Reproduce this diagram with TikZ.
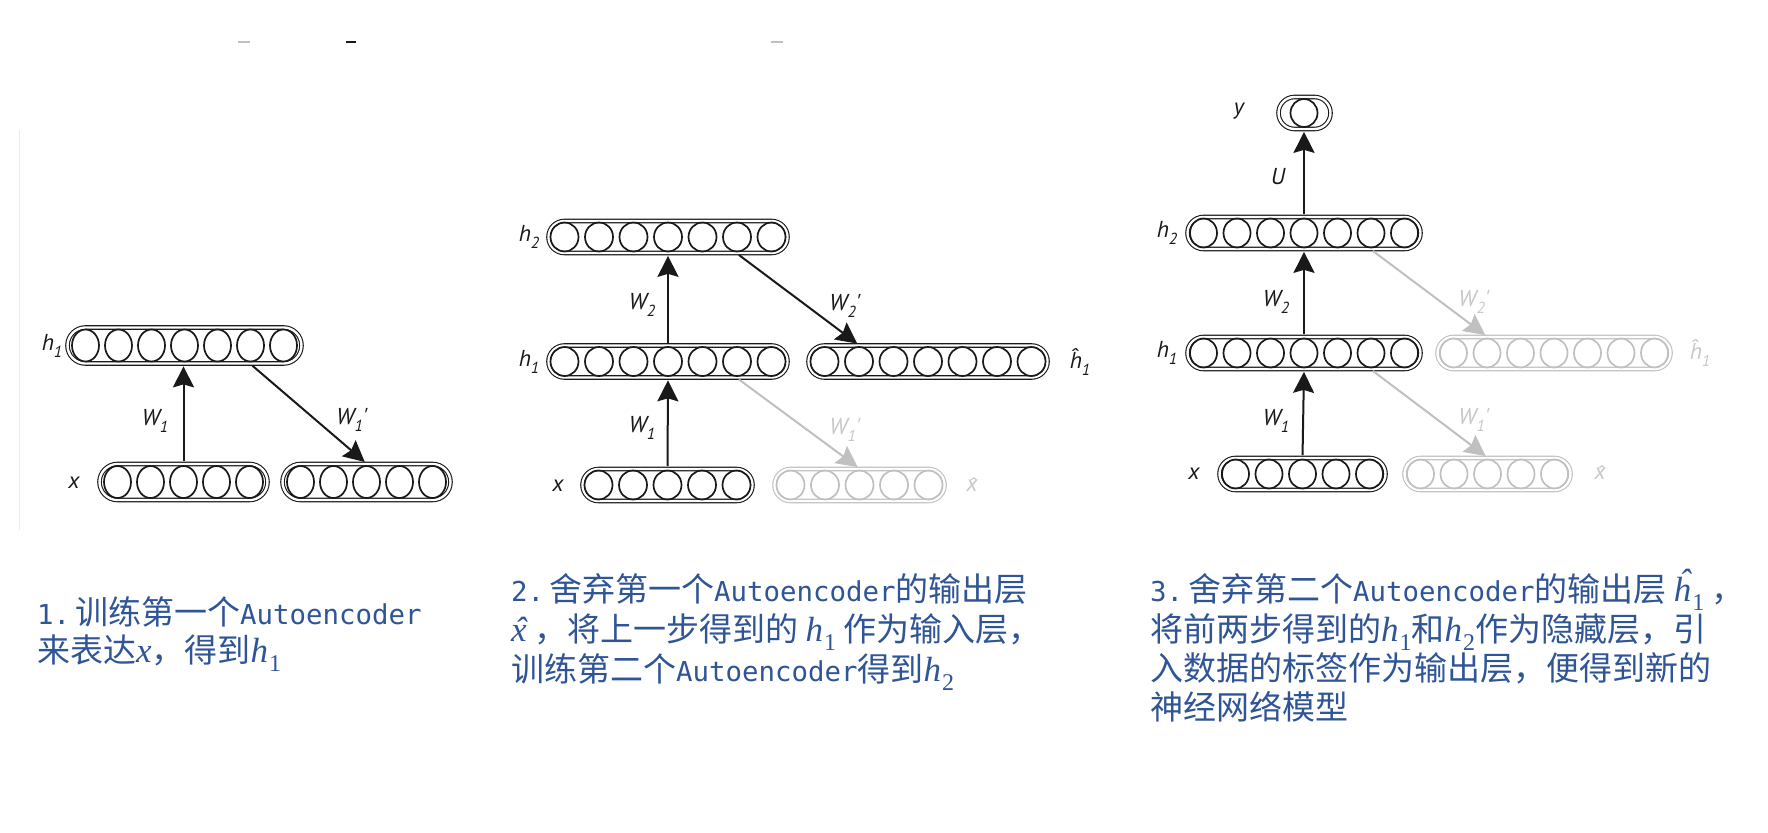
\documentclass[tikz,border=0pt]{standalone}
\usepackage{fontspec}
\setmainfont{Noto Sans CJK SC}
\newfontfamily\lat{DejaVu Sans Mono}[Scale=0.83]
\newfontfamily\dlab{PT Sans}
\newfontfamily\hatf{Liberation Sans}
\newfontfamily\mserif{Liberation Serif}
\usetikzlibrary{shapes.geometric,arrows.meta}
\definecolor{tblue}{RGB}{47,85,151}
\definecolor{fade}{RGB}{192,192,192}
\definecolor{fadetxt}{RGB}{200,200,200}
\definecolor{ink}{RGB}{25,25,25}
% diagram labels
\newcommand\sub[1]{\raisebox{-0.3em}{\fontsize{16}{16}\selectfont #1}}
\newcommand\hx{\ooalign{x\cr\hidewidth\kern2pt\raisebox{-1pt}{\hatf\fontsize{20}{20}\selectfont ˆ}\hidewidth\cr}}
% caption maths
\newcommand\msz{\mserif\fontsize{35}{38}\selectfont\itshape}
\newcommand\msb[1]{\kern1pt\raisebox{-0.28em}[0pt][0pt]{\upshape\fontsize{24}{24}\selectfont #1}}
\newcommand\mh[1]{{\msz h\msb{#1}}}
\newcommand\mx{{\msz x}}
\newcommand\mxhat{{\msz\ooalign{x\cr\hidewidth\kern3pt\raisebox{0pt}[0pt][0pt]{ˆ}\hidewidth\cr}}}
\newcommand\mhhat[1]{{\msz\ooalign{h\cr\hidewidth\kern4pt\raisebox{0.22em}[0pt][0pt]{ˆ}\hidewidth\cr}\msb{#1}}}
\tikzset{
  bar/.style={rectangle, double, double distance=2.4pt, line width=1.1pt, inner sep=0pt},
  cell/.style={ellipse, line width=1.7pt, inner sep=0pt},
  arr/.style={-{Stealth[length=21pt,width=21pt,inset=3pt]}, line width=2pt, draw=ink, shorten <=2.3pt, shorten >=2.3pt},
  farr/.style={arr, draw=fade},
  lab/.style={font=\dlab\itshape\fontsize{23}{23}\selectfont, text=ink, inner sep=0pt},
  flab/.style={lab, text=fadetxt},
  txt/.style={anchor=base west, inner sep=0pt, text=tblue, font=\fontsize{33}{38}\selectfont},
}
% name, left, cy, n, pitch, H, cw, ch, color
\newcommand\layer[9]{%
  \pgfmathsetmacro\bw{(#4-1)*#5+#6-5}%
  \pgfmathsetmacro\bh{#6-5}%
  \pgfmathsetmacro\rr{(#6-5)/2}%
  \node[bar, draw=#9, minimum width=\bw pt, minimum height=\bh pt, rounded corners=\rr pt] (#1) at ({#2+(#4-1)*#5/2+#6/2},#3) {};
  \foreach \i in {1,...,#4}{
    \node[cell, draw=#9, minimum width=#7pt, minimum height=#8pt] (#1c\i) at ({#2+#6/2+(\i-1)*#5},#3) {};
  }%
}
\begin{document}
\begin{tikzpicture}[x=1pt,y=-1pt]
\fill[white] (0,0) rectangle (1768,832);
\useasboundingbox (0,0) rectangle (1768,832);
% small remnants at the top and left
\draw[fade, line width=2pt] (238,42) -- (250,42);
\draw[ink, line width=2pt] (346,42) -- (356,42);
\draw[fade, line width=2pt] (771,42) -- (783,42);
\draw[black!8, line width=1pt] (19,130) -- (19,530);

% ---------------- Panel 1 ----------------
\layer{pa}{65}{345.5}{7}{33}{41}{27}{32}{ink}
\layer{pb}{97}{482}{5}{33}{41}{27}{32}{ink}
\layer{pc}{280}{482}{5}{33}{41}{27}{32}{ink}
\draw[arr] (pbc3 |- pb.north) -- (pbc3 |- pa.south);
\draw[arr] (pac6 |- pa.south) -- (pcc3 |- pc.north);
\node[lab] (la1) at (52,346) {h\sub{1}};
\node[lab] (la2) at (74,483) {x};
\node[lab] (la3) at (155,421) {W\sub{1}};
\node[lab] (la4) at (352,420) {W\sub{1}'};

% ---------------- Panel 2 ----------------
\layer{qa}{546}{237}{7}{34.5}{37}{28}{29}{ink}
\layer{qb}{546}{361.5}{7}{34.5}{37}{28}{29}{ink}
\layer{qc}{806}{361.5}{7}{34.5}{37}{28}{29}{ink}
\layer{qd}{580}{485}{5}{34.5}{37}{28}{29}{ink}
\layer{qe}{772}{485}{5}{34.5}{37}{28}{29}{fade}
\draw[arr] (qdc3 |- qd.north) -- (qbc4 |- qb.south);
\draw[arr] (qbc4 |- qb.north) -- (qac4 |- qa.south);
\draw[arr] (qac6 |- qa.south) -- (qcc2 |- qc.north);
\draw[farr] (qbc6 |- qb.south) -- (qec3 |- qe.north);
\node[lab] (lb1) at (529,237) {h\sub{2}};
\node[lab] (lb2) at (529,362) {h\sub{1}};
\node[lab] (lb3) at (1080,362) {\^h\sub{1}};
\node[lab] (lb4) at (558,486) {x};
\node[flab] (lb5) at (972,486) {\hx};
\node[lab] (lb6) at (642,305) {W\sub{2}};
\node[lab] (lb7) at (642,428) {W\sub{1}};
\node[lab] (lb8) at (845,306) {W\sub{2}'};
\node[flab] (lb9) at (845,430) {W\sub{1}'};

% ---------------- Panel 3 ----------------
\node[bar, draw=ink, minimum width=52pt, minimum height=32pt, rounded corners=16pt] (ry) at (1304.5,113) {};
\node[cell, draw=ink, minimum width=27pt, minimum height=28pt] (ryc1) at (1304,113) {};
\layer{ra}{1185}{233}{7}{33.5}{37}{27}{29}{ink}
\layer{rb}{1185}{353}{7}{33.5}{37}{27}{29}{ink}
\layer{rc}{1435}{353}{7}{33.5}{37}{27}{29}{fade}
\layer{rd}{1217}{474}{5}{33.5}{37}{27}{29}{ink}
\layer{re}{1402}{474}{5}{33.5}{37}{27}{29}{fade}
\draw[arr] (rdc3 |- rd.north) -- (rbc4 |- rb.south);
\draw[arr] (rbc4 |- rb.north) -- (rac4 |- ra.south);
\draw[arr] (rac4 |- ra.north) -- (ryc1 |- ry.south);
\draw[farr] (rac6 |- ra.south) -- (rcc2 |- rc.north);
\draw[farr] (rbc6 |- rb.south) -- (rec3 |- re.north);
\node[lab] (lc0) at (1239,111) {y};
\node[lab] (lc1) at (1278,177) {U};
\node[lab] (lc2) at (1167,233) {h\sub{2}};
\node[lab] (lc3) at (1167,353) {h\sub{1}};
\node[flab] (lc4) at (1700,353) {\^h\sub{1}};
\node[lab] (lc5) at (1194,474) {x};
\node[flab] (lc6) at (1600,474) {\hx};
\node[lab] (lc7) at (1276,302) {W\sub{2}};
\node[lab] (lc8) at (1276,421) {W\sub{1}};
\node[flab] (lc9) at (1474,302) {W\sub{2}'};
\node[flab] (lc10) at (1474,420) {W\sub{1}'};

% ---------------- Captions ----------------
\node[txt] (t11) at (37,624) {{\lat 1.}\hspace{5pt}训练第一个{\lat Autoencoder}};
\node[txt] (t12) at (37,662) {来表达\mx，得到\mh{1}};
\node[txt] (t21) at (511,601) {{\lat 2.}\hspace{5pt}舍弃第一个{\lat Autoencoder}的输出层};
\node[txt] (t22) at (511,641) {\mxhat\ ，将上一步得到的 \mh{1} 作为输入层，};
\node[txt] (t23) at (511,681) {训练第二个{\lat Autoencoder}得到\mh{2}};
\node[txt] (t31) at (1150,601) {{\lat 3.}\hspace{5pt}舍弃第二个{\lat Autoencoder}的输出层 \mhhat{1} ，};
\node[txt] (t32) at (1150,641) {将前两步得到的\mh{1}和\mh{2}作为隐藏层，引};
\node[txt] (t33) at (1150,680) {入数据的标签作为输出层，便得到新的};
\node[txt] (t34) at (1150,719) {神经网络模型};
\end{tikzpicture}
\end{document}
